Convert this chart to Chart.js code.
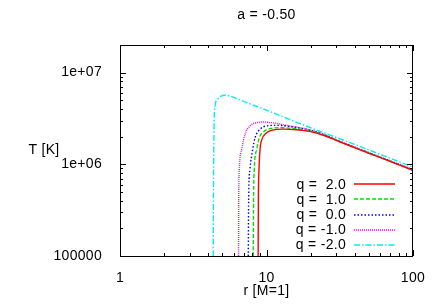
<!DOCTYPE html>
<html><head><meta charset="utf-8">
<script src="https://cdn.jsdelivr.net/npm/chart.js@4/dist/chart.umd.min.js"></script>
<style>html,body{margin:0;padding:0;background:#fff;}#wrap{width:436px;height:305px;}</style>
</head><body><div id="wrap"><canvas id="c" width="436" height="305"></canvas></div>
<script>
const chartTitle = 'a = -0.50';
const xLabel = 'r [M=1]';
const yLabel = 'T [K]';
const seriesLabels = ['q =  2.0', 'q =  1.0', 'q =  0.0', 'q = -1.0', 'q = -2.0'];
const xTicks = [1, 10, 100];
const xTickLabels = ['1', '10', '100'];
const yTicks = [1e5, 1e6, 1e7];
const yTickLabels = ['100000', '1e+06', '1e+07'];
const xMinorTicks = [2, 3, 4, 5, 6, 7, 8, 9, 20, 30, 40, 50, 60, 70, 80, 90];
const yMinorTicks = [2e5, 3e5, 4e5, 5e5, 6e5, 7e5, 8e5, 9e5, 2e6, 3e6, 4e6, 5e6, 6e6, 7e6, 8e6, 9e6, 2e7];

// q = 2.0
const rQ2 = [8.77, 8.80, 8.89, 9.03, 9.31, 9.92, 10.85, 13.0, 16.1, 20, 25, 30, 41, 60, 100];
const tQ2 = [1.0e5, 4.0e5, 8.8e5, 1.45e6, 1.87e6, 2.18e6, 2.35e6, 2.42e6, 2.38e6, 2.27e6, 2.05e6, 1.82e6, 1.49e6, 1.18e6, 8.6e5];
// q = 1.0
const rQ1 = [8.12, 8.16, 8.25, 8.57, 8.93, 9.51, 10.57, 12.4, 15.2, 20, 25, 30, 41, 60, 100];
const tQ1 = [1.0e5, 4.0e5, 8.8e5, 1.45e6, 1.95e6, 2.25e6, 2.45e6, 2.51e6, 2.46e6, 2.31e6, 2.07e6, 1.83e6, 1.50e6, 1.19e6, 8.6e5];
// q = 0.0
const rQ0 = [7.51, 7.55, 7.71, 8.05, 8.35, 9.03, 10.0, 11.7, 14.5, 20, 25, 30, 41, 60, 100];
const tQ0 = [1.0e5, 4.0e5, 8.8e5, 1.45e6, 1.95e6, 2.41e6, 2.62e6, 2.66e6, 2.58e6, 2.34e6, 2.09e6, 1.84e6, 1.51e6, 1.19e6, 8.7e5];
// q = -1.0
const rQm1 = [6.44, 6.46, 6.52, 6.77, 7.13, 7.71, 8.57, 9.51, 11.1, 13.7, 20, 25, 30, 41, 60, 100];
const tQm1 = [1.0e5, 4.1e5, 8.8e5, 1.45e6, 2.12e6, 2.62e6, 2.85e6, 2.89e6, 2.83e6, 2.66e6, 2.37e6, 2.10e6, 1.85e6, 1.52e6, 1.20e6, 8.8e5];
// q = -2.0
const rQm2 = [4.33, 4.34, 4.36, 4.38, 4.45, 4.62, 4.87, 5.15, 5.63, 6.42, 8.35, 10, 16.9, 30, 41, 60, 100];
const tQm2 = [1.0e5, 4.0e5, 1.04e6, 2.41e6, 4.3e6, 5.1e6, 5.5e6, 5.67e6, 5.55e6, 5.13e6, 4.35e6, 3.9e6, 2.78e6, 1.96e6, 1.62e6, 1.28e6, 9.3e5];

const seriesR = [rQ2, rQ1, rQ0, rQm1, rQm2];
const seriesT = [tQ2, tQ1, tQ0, tQm1, tQm2];
const colors = ['#ff0000', '#00e000', '#0000ff', '#ff00ff', '#00f0f0'];
const dashes = [[], [4, 2], [1.5, 2], [1, 1], [6, 2, 1.5, 2]];

const FONT = 'Liberation Sans, Arial, Helvetica, sans-serif';
const FSIZE = 14;
const LSP = '0.3px';
Chart.defaults.font.family = FONT;
Chart.defaults.font.size = FSIZE;
Chart.defaults.color = '#000';

const datasets = seriesR.map((rs, i) => ({
  label: seriesLabels[i],
  data: rs.map((r, k) => ({x: r, y: seriesT[i][k]})),
  borderColor: colors[i],
  borderWidth: 1.4,
  borderDash: dashes[i],
  pointRadius: 0,
  cubicInterpolationMode: 'monotone',
  fill: false
}));

const decor = {
  id: 'decor',
  beforeDraw(chart) {
    chart.ctx.letterSpacing = LSP;
  },
  afterDraw(chart) {
    const ctx = chart.ctx;
    const a = chart.chartArea;
    const xs = chart.scales.x, ys = chart.scales.y;
    ctx.save();
    ctx.letterSpacing = LSP;
    ctx.strokeStyle = '#000';
    ctx.lineWidth = 1;
    ctx.setLineDash([]);
    ctx.beginPath();
    ctx.rect(Math.round(a.left) + 0.5, Math.round(a.top) + 0.5, Math.round(a.right - a.left) - 1, Math.round(a.bottom - a.top));
    const tickX = (v, len) => {
      const p = Math.round(xs.getPixelForValue(v)) + 0.5;
      ctx.moveTo(p, a.bottom); ctx.lineTo(p, a.bottom - len);
      ctx.moveTo(p, a.top); ctx.lineTo(p, a.top + len);
    };
    const tickY = (v, len) => {
      const p = Math.round(ys.getPixelForValue(v)) + 0.5;
      ctx.moveTo(a.left, p); ctx.lineTo(a.left + len, p);
      ctx.moveTo(a.right, p); ctx.lineTo(a.right - len, p);
    };
    xTicks.forEach(v => tickX(v, 6));
    xMinorTicks.forEach(v => tickX(v, 3));
    yTicks.forEach(v => tickY(v, 6));
    yMinorTicks.forEach(v => tickY(v, 3));
    ctx.stroke();

    // legend
    ctx.font = FSIZE + 'px ' + FONT;
    ctx.fillStyle = '#000';
    ctx.textBaseline = 'middle';
    ctx.textAlign = 'right';
    const n = chart.data.datasets.length;
    chart.data.datasets.forEach((ds, i) => {
      const y = a.bottom - 11 - 15.2 * (n - 1 - i);
      ctx.fillText(ds.label, a.right - 67, y + 0.5);
      ctx.beginPath();
      ctx.strokeStyle = ds.borderColor;
      ctx.lineWidth = ds.borderWidth;
      ctx.setLineDash(ds.borderDash);
      const yy = Math.round(y);
      ctx.moveTo(a.right - 59, yy);
      ctx.lineTo(a.right - 18, yy);
      ctx.stroke();
    });
    ctx.setLineDash([]);

    ctx.textAlign = 'center';
    ctx.fillText(chartTitle, (a.left + a.right) / 2, 15.5);
    ctx.fillText(xLabel, (a.left + a.right) / 2, 291);
    ctx.fillText(yLabel, 44, (a.top + a.bottom) / 2);
    ctx.restore();
  }
};

new Chart(document.getElementById('c'), {
  type: 'line',
  data: {datasets},
  options: {
    responsive: false,
    animation: false,
    devicePixelRatio: 1,
    layout: {padding: {top: 45, right: 23, left: 0, bottom: 0}},
    plugins: {legend: {display: false}, title: {display: false}, tooltip: {enabled: false}},
    scales: {
      x: {
        type: 'logarithmic', min: 1, max: 100, position: 'bottom',
        grid: {display: false}, border: {display: false},
        afterBuildTicks: s => { s.ticks = xTicks.map(v => ({value: v})); },
        afterFit: s => { s.height = 49; },
        ticks: {padding: 6, maxRotation: 0, autoSkip: false, font: {size: FSIZE},
          callback: (v, i) => xTickLabels[i]}
      },
      y: {
        type: 'logarithmic', min: 1e5, max: 2e7, position: 'left',
        grid: {display: false}, border: {display: false},
        afterBuildTicks: s => { s.ticks = yTicks.map(v => ({value: v})); },
        afterFit: s => { s.width = 120; },
        ticks: {padding: 10, autoSkip: false, font: {size: FSIZE},
          callback: (v, i) => yTickLabels[i]}
      }
    }
  },
  plugins: [decor]
});
</script>
</body></html>
